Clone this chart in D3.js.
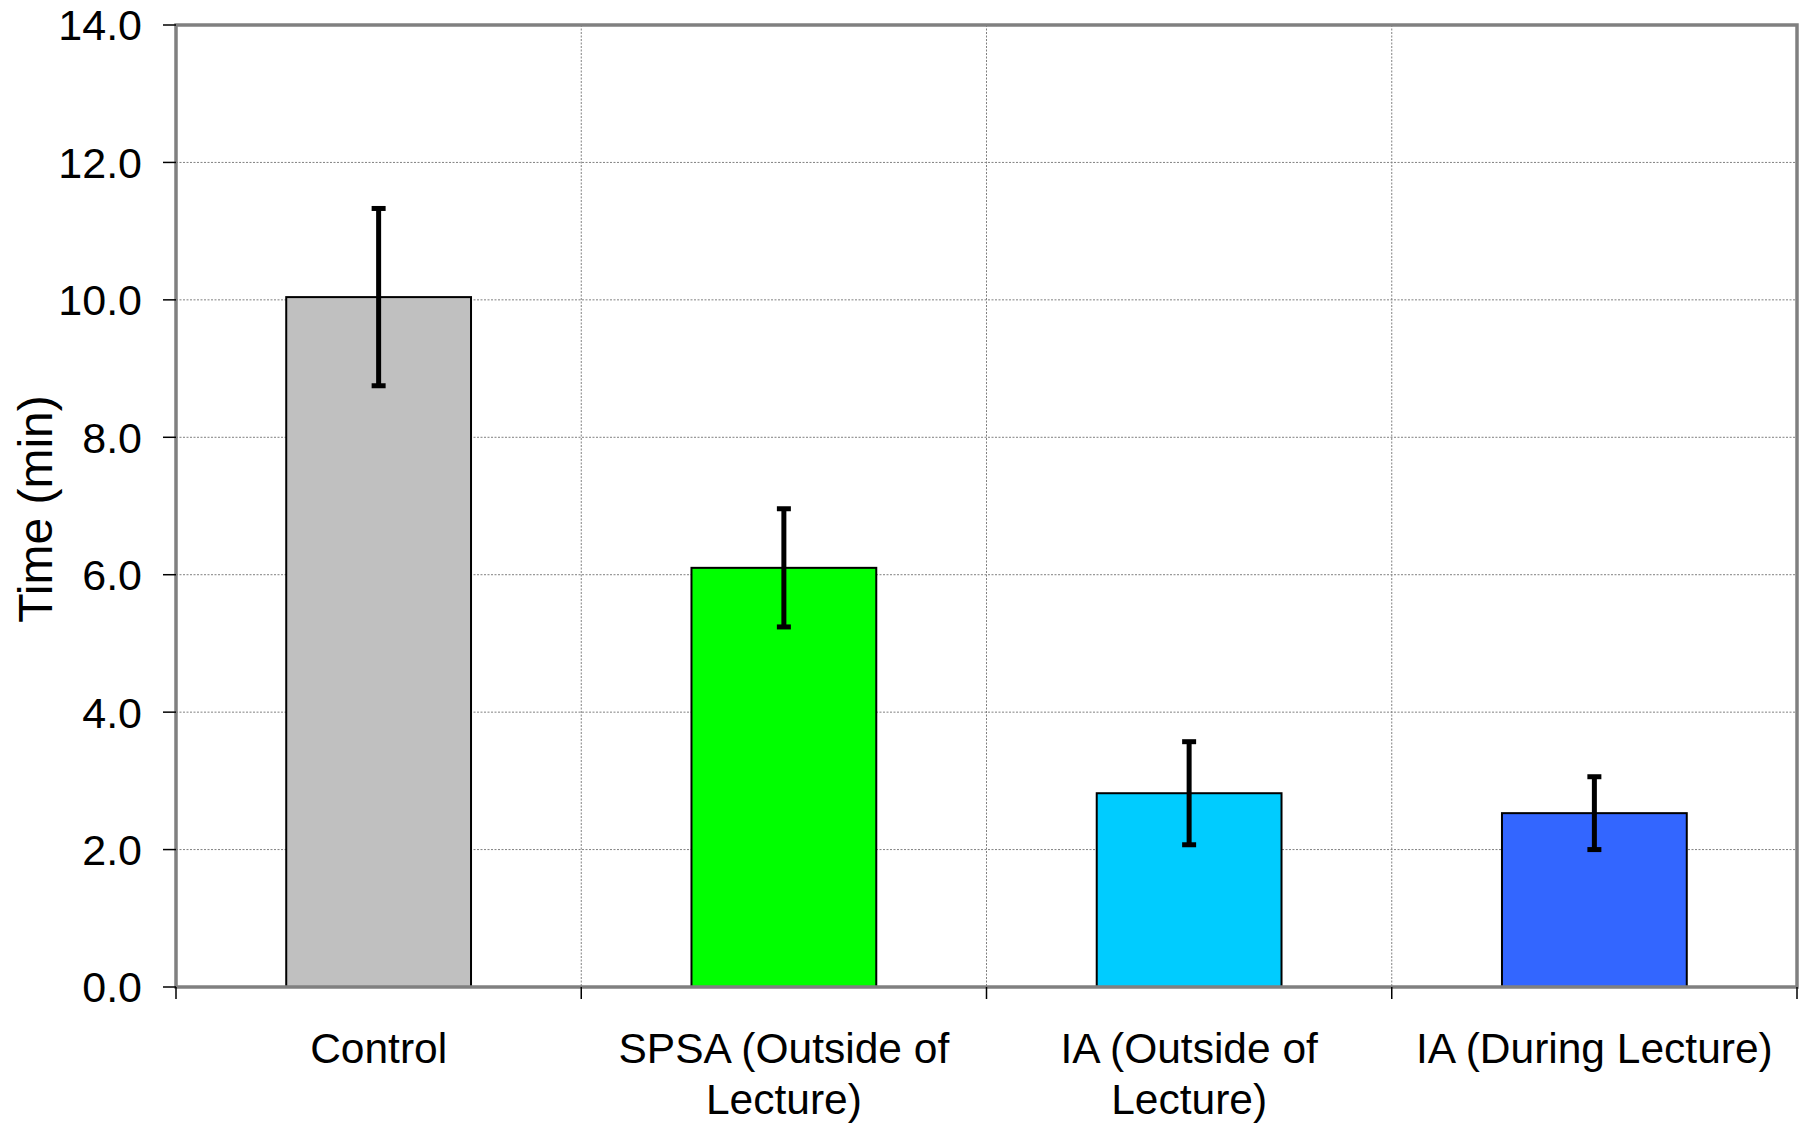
<!DOCTYPE html>
<meta charset="utf-8">

<style>
  body { margin: 0; background: white; }
  text { font-family: "Liberation Sans", Arial, sans-serif; fill: black; }
  .grid line { stroke: #808080; stroke-width: 1; stroke-dasharray: 2,1.5; }
</style>

<body>
  <script src="https://d3js.org/d3.v7.min.js"></script>

  <script type="application/javascript">
    var categories = ["Control", "SPSA (Outside of Lecture)", "IA (Outside of Lecture)", "IA (During Lecture)"];
    var tickLabels = [["Control"], ["SPSA (Outside of", "Lecture)"], ["IA (Outside of", "Lecture)"], ["IA (During Lecture)"]];
    var means = [10.04, 6.10, 2.82, 2.53];
    var errors = [1.29, 0.86, 0.75, 0.53];
    var colors = ["#C0C0C0", "#00FF00", "#00CCFF", "#3366FF"];
    var yTicks = [0, 2, 4, 6, 8, 10, 12, 14];

    var width = 1812,
        height = 1125;

    // plot area edges (names avoid window.top clash)
    var plotL = 176, plotR = 1797, plotT = 25, plotB = 987;

    var svg = d3.select("body").append("svg")
                .attr("width", width)
                .attr("height", height);

    var x = d3.scaleBand()
              .domain(categories)
              .range([plotL, plotR])
              .paddingInner(0.544)
              .paddingOuter(0.272);

    var y = d3.scaleLinear().domain([0, 14]).range([plotB, plotT]);

    var step = x.step();

    // horizontal grid
    svg.append("g").attr("class", "grid")
       .selectAll("line")
       .data(yTicks.slice(1))
       .enter().append("line")
       .attr("x1", plotL).attr("x2", plotR)
       .attr("y1", d => y(d)).attr("y2", d => y(d));

    // vertical grid between categories
    var bounds = d3.range(1, categories.length).map(i => plotL + i * step);
    svg.append("g").attr("class", "grid")
       .selectAll("line")
       .data(bounds)
       .enter().append("line")
       .attr("x1", d => d).attr("x2", d => d)
       .attr("y1", plotT).attr("y2", plotB);

    // bars
    svg.selectAll("rect.bar")
       .data(categories)
       .enter().append("rect")
       .attr("class", "bar")
       .attr("x", d => x(d))
       .attr("width", x.bandwidth())
       .attr("y", (d, i) => y(means[i]))
       .attr("height", (d, i) => y(0) - y(means[i]))
       .attr("fill", (d, i) => colors[i])
       .attr("stroke", "black")
       .attr("stroke-width", 2);

    // error bars
    var eb = svg.selectAll("g.err")
                .data(categories)
                .enter().append("g")
                .attr("class", "err")
                .attr("transform", d => "translate(" + (x(d) + x.bandwidth() / 2) + ",0)");

    eb.append("line")
      .attr("y1", (d, i) => y(means[i] + errors[i]))
      .attr("y2", (d, i) => y(means[i] - errors[i]))
      .attr("stroke", "black").attr("stroke-width", 5);

    [1, -1].forEach(function(s) {
      eb.append("line")
        .attr("x1", -7).attr("x2", 7)
        .attr("y1", (d, i) => y(means[i] + s * errors[i]))
        .attr("y2", (d, i) => y(means[i] + s * errors[i]))
        .attr("stroke", "black").attr("stroke-width", 5);
    });

    // plot frame
    svg.append("rect")
       .attr("x", plotL).attr("y", plotT)
       .attr("width", plotR - plotL).attr("height", plotB - plotT)
       .attr("fill", "none")
       .attr("stroke", "#808080")
       .attr("stroke-width", 3.5);

    // y axis ticks and labels
    var yAxis = svg.append("g");
    yAxis.selectAll("line")
         .data(yTicks)
         .enter().append("line")
         .attr("x1", plotL - 13).attr("x2", plotL)
         .attr("y1", d => y(d)).attr("y2", d => y(d))
         .attr("stroke", "black").attr("stroke-width", 1.5);
    yAxis.selectAll("text")
         .data(yTicks)
         .enter().append("text")
         .attr("x", plotL - 34)
         .attr("y", d => y(d))
         .attr("dy", "0.36em")
         .attr("text-anchor", "end")
         .style("font-size", "43px")
         .text(d => d3.format(".1f")(d));

    // x axis ticks at category boundaries
    var xTickPos = d3.range(0, categories.length + 1).map(i => plotL + i * step);
    svg.append("g").selectAll("line")
       .data(xTickPos)
       .enter().append("line")
       .attr("x1", d => d).attr("x2", d => d)
       .attr("y1", plotB).attr("y2", plotB + 12)
       .attr("stroke", "black").attr("stroke-width", 1.5);

    // x labels
    var xl = svg.append("g").selectAll("text")
                .data(categories)
                .enter().append("text")
                .attr("text-anchor", "middle")
                .style("font-size", "42.5px")
                .attr("transform", d => "translate(" + (x(d) + x.bandwidth() / 2) + ",1063)");
    xl.selectAll("tspan")
      .data((d, i) => tickLabels[i])
      .enter().append("tspan")
      .attr("x", 0)
      .attr("y", (d, j) => j * 51)
      .text(d => d);

    // y title
    svg.append("text")
       .attr("transform", "translate(52," + ((plotT + plotB) / 2 + 3) + ") rotate(-90)")
       .attr("text-anchor", "middle")
       .style("font-size", "48px")
       .text("Time (min)");
  </script>
</body>
